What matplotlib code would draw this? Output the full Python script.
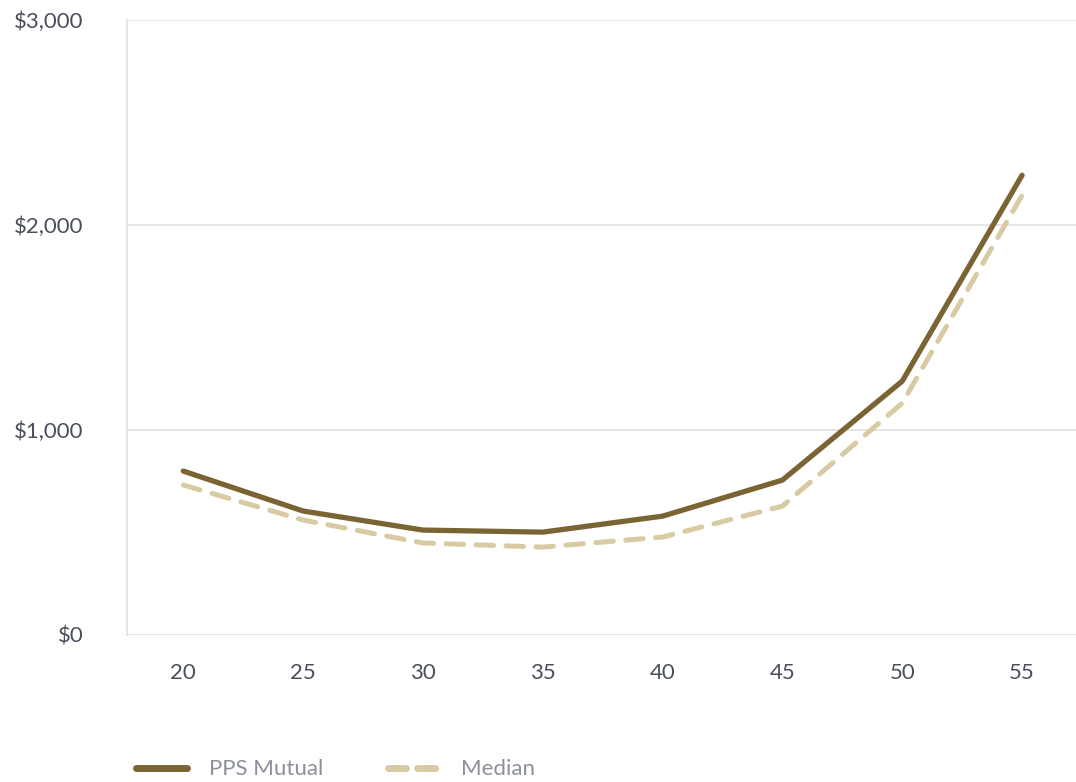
import numpy as np
import matplotlib.pyplot as plt
from matplotlib.lines import Line2D

plt.rcParams['font.family'] = ['Lato', 'DejaVu Sans']

ages = ['20', '25', '30', '35', '40', '45', '50', '55']
pps = [800, 605, 512, 502, 580, 756, 1239, 2244]
median = [732, 561, 449, 429, 478, 629, 1132, 2146]
yticks = [0, 1000, 2000, 3000]
ylabels = ['$0', '$1,000', '$2,000', '$3,000']

dark = '#7a6433'
light = '#d8cba3'
grid = '#e3e3e3'
txt = '#4a4f5c'

fig = plt.figure(figsize=(10.76, 7.82), dpi=100)
ax = fig.add_axes([0.118, 0.188, 0.882, 0.786])

x = np.arange(len(ages))
ax.plot(x, median, color=light, lw=3.6, ls=(0, (3.5, 2.5)),
        dash_capstyle='round', solid_capstyle='round', zorder=3)
ax.plot(x, pps, color=dark, lw=3.8, solid_capstyle='round', zorder=4)

ax.set_xlim(-0.47, 7.45)
ax.set_ylim(0, 3000)
ax.set_xticks(x)
ax.set_xticklabels(ages)
ax.set_yticks(yticks)
ax.set_yticklabels(ylabels)
ax.tick_params(axis='both', length=0, labelsize=16, colors=txt)
ax.tick_params(axis='y', pad=31)
ax.tick_params(axis='x', pad=20)
ax.grid(axis='y', color=grid, lw=1.3)
ax.set_axisbelow(True)
for s in ['top', 'right', 'bottom']:
    ax.spines[s].set_visible(False)
ax.spines['left'].set_color(grid)
ax.spines['left'].set_linewidth(1.3)

handles = [Line2D([], [], color=dark, lw=5, solid_capstyle='round'),
           Line2D([], [], color=light, lw=5, ls=(0, (2.6, 1.6)), dash_capstyle='round')]
leg = fig.legend(handles, ['PPS Mutual', 'Median'], loc='center left',
                 bbox_to_anchor=(0.118, 0.016), ncol=2, frameon=False,
                 fontsize=16, handlelength=2.3, handletextpad=1.0,
                 columnspacing=2.9, borderaxespad=0)
for t in leg.get_texts():
    t.set_color('#8c909a')

fig.savefig('out.png', dpi=100)
plt.close('all')
